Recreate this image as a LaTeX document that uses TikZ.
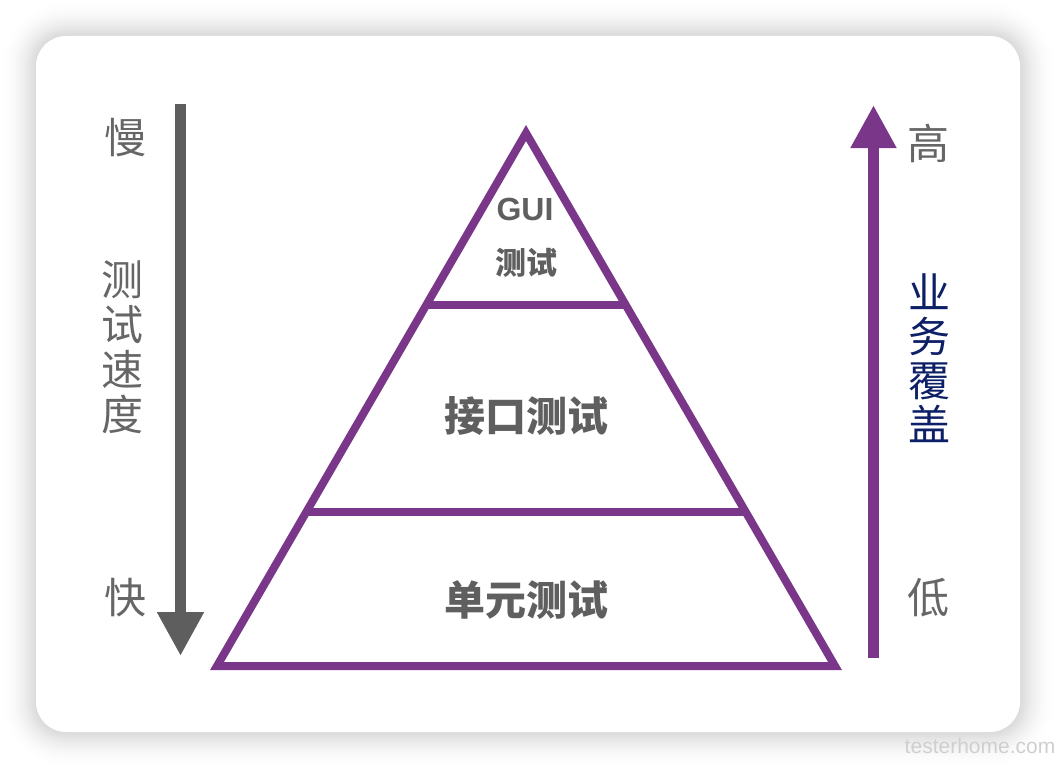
\documentclass[tikz,border=0pt]{standalone}
\usepackage{fontspec}
\setmainfont{Liberation Sans}
\newfontfamily\cjk{Noto Sans CJK SC}
\usetikzlibrary{arrows.meta,calc}
\definecolor{pyrpurple}{HTML}{7A3689}
\definecolor{arrowgray}{HTML}{5E5E5E}
\definecolor{textgray}{HTML}{666666}
\definecolor{boldgray}{HTML}{5F5F5F}
\definecolor{navytext}{HTML}{0D1F66}
\definecolor{wmgray}{HTML}{CFCFCF}
\tikzset{
  pyrline/.style={draw=pyrpurple, line width=8pt, line join=miter},
  sidelabel/.style={font=\cjk\fontsize{42}{45}\selectfont, text=textgray, inner sep=0pt, align=center},
  covlabel/.style={font=\cjk\fontsize{42}{44}\selectfont, text=navytext, inner sep=0pt, align=center},
  layerlabel/.style={font=\cjk\bfseries\fontsize{41}{44}\selectfont, text=boldgray, inner sep=0pt},
  speedarrow/.style={draw=arrowgray, line width=11pt, -{Triangle[length=44pt,width=44pt,fill=arrowgray]}},
  coverarrow/.style={draw=pyrpurple, line width=11pt, -{Triangle[length=43pt,width=43pt,fill=pyrpurple]}},
}
\begin{document}
\begin{tikzpicture}[x=1pt,y=-1pt]
\useasboundingbox (0,0) rectangle (1056,768);
\fill[white] (0,0) rectangle (1056,768);
% shadow
\foreach \d in {36,35,...,1}{
  \pgfmathsetmacro\p{15*(1-\d/37)^2}
  \fill[black!\p, rounded corners=30+\d] (36-\d,36-\d) rectangle (1020+\d,732+\d);
}
% card
\fill[white, rounded corners=30] (36,36) rectangle (1020,732);

% pyramid
\coordinate (A) at (526,133);
\coordinate (B) at (217,666);
\coordinate (C) at (835,666);
\coordinate (d1l) at ($(A)!0.3227!(B)$);
\coordinate (d1r) at ($(A)!0.3227!(C)$);
\coordinate (d2l) at ($(A)!0.7111!(B)$);
\coordinate (d2r) at ($(A)!0.7111!(C)$);
\draw[pyrline] (A) -- (B) -- (C) -- cycle;
\draw[pyrline] (d1l) -- (d1r);
\draw[pyrline] (d2l) -- (d2r);

\node[font=\bfseries\fontsize{32}{36}\selectfont, text=boldgray, inner sep=0pt] (gui) at (525,209) {GUI};
\node[font=\cjk\bfseries\fontsize{31}{34}\selectfont, text=boldgray, inner sep=0pt] (guitest) at (526,263) {测试};
\node[layerlabel] (api) at (526,416) {接口测试};
\node[layerlabel] (unit) at (526,600) {单元测试};

% left speed arrow
\coordinate (ls) at (180.5,104);
\coordinate (le) at (180.5,656);
\draw[speedarrow] (ls) -- (le);
\node[sidelabel] (slow) at (125,138) {慢};
\node[sidelabel] (speed) at (122,347) {测\\试\\速\\度};
\node[sidelabel] (fast) at (125,598) {快};

% right coverage arrow
\coordinate (rs) at (873.5,658);
\coordinate (re) at (873.5,105);
\draw[coverarrow] (rs) -- (re);
\node[sidelabel] (high) at (928,143) {高};
\node[covlabel] (cover) at (929,358) {业\\务\\覆\\盖};
\node[sidelabel] (low) at (928,598) {低};

% watermark
\node[font=\fontsize{21}{24}\selectfont, text=wmgray, inner sep=0pt] (wm) at (980,746) {testerhome.com};
\end{tikzpicture}
\end{document}
